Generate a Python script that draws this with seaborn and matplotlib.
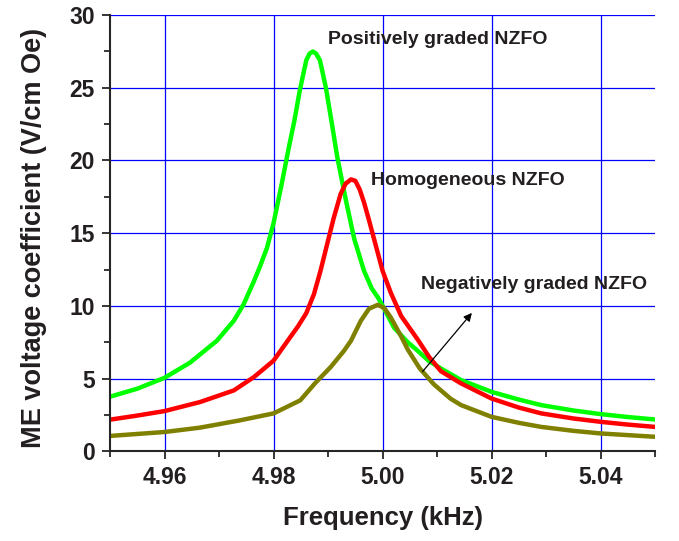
import pandas as pd
import seaborn as sns
import matplotlib.pyplot as plt
from matplotlib.ticker import MultipleLocator

# values
pos_freq = [4.950, 4.955, 4.960, 4.9647, 4.9696, 4.9727, 4.9745, 4.9764, 4.9775, 4.9788,
            4.9800, 4.9815, 4.9828, 4.9838, 4.9848, 4.9860, 4.9866, 4.9872, 4.9878, 4.9885,
            4.9896, 4.9906, 4.9917, 4.9933, 4.9948, 4.9966, 4.9980, 4.9991, 5.0000, 5.0021,
            5.0046, 5.0063, 5.0085, 5.0107, 5.0144, 5.0200, 5.0250, 5.0291, 5.0350, 5.0400,
            5.0450, 5.0500]
pos_me = [3.75, 4.3, 5.05, 6.1, 7.6, 8.97, 10.1, 11.7, 12.7, 14.0,
          15.7, 18.4, 20.9, 22.7, 24.8, 26.9, 27.35, 27.5, 27.35, 26.9,
          25.0, 22.75, 20.2, 17.2, 14.6, 12.4, 11.2, 10.6, 10.0, 8.5,
          7.5, 6.95, 6.2, 5.69, 4.89, 4.08, 3.55, 3.17, 2.8, 2.55,
          2.35, 2.18]

homo_freq = [4.950, 4.955, 4.960, 4.9665, 4.9727, 4.9764, 4.9800, 4.9824, 4.9845, 4.9860,
             4.9874, 4.9886, 4.9898, 4.9910, 4.9923, 4.9932, 4.9942, 4.9950, 4.9958, 4.9966,
             4.9975, 4.9985, 5.0000, 5.0015, 5.0034, 5.0064, 5.0085, 5.0107, 5.0144, 5.0200,
             5.0250, 5.0291, 5.0350, 5.0400, 5.0450, 5.0500]
homo_me = [2.17, 2.45, 2.76, 3.38, 4.18, 5.1, 6.23, 7.5, 8.6, 9.5,
           10.8, 12.4, 14.2, 16.0, 17.7, 18.4, 18.7, 18.6, 18.0, 17.1,
           15.9, 14.5, 12.4, 10.9, 9.3, 7.7, 6.5, 5.5, 4.66, 3.62,
           3.0, 2.6, 2.25, 2.02, 1.83, 1.67]

neg_freq = [4.950, 4.960, 4.9665, 4.9738, 4.9800, 4.9849, 4.9875, 4.9905, 4.9929, 4.9942,
            4.9960, 4.9975, 4.9991, 5.0003, 5.0015, 5.0034, 5.0046, 5.0068, 5.0094, 5.0125,
            5.0144, 5.0200, 5.0250, 5.0291, 5.0350, 5.0400, 5.0500]
neg_me = [1.05, 1.32, 1.62, 2.12, 2.6, 3.5, 4.63, 5.8, 6.9, 7.6,
          8.97, 9.8, 10.07, 9.85, 9.2, 7.9, 7.0, 5.7, 4.6, 3.6,
          3.17, 2.36, 1.95, 1.67, 1.4, 1.22, 0.99]

names = ["Positively graded NZFO", "Homogeneous NZFO", "Negatively graded NZFO"]
colors = ["#00ff00", "#ff0000", "#808000"]

df = pd.concat([
    pd.DataFrame({"freq": pos_freq, "me": pos_me, "sample": names[0]}),
    pd.DataFrame({"freq": homo_freq, "me": homo_me, "sample": names[1]}),
    pd.DataFrame({"freq": neg_freq, "me": neg_me, "sample": names[2]}),
])

sns.set_style("ticks")
plt.rcParams["font.family"] = ["Liberation Sans", "DejaVu Sans"]
plt.rcParams["font.weight"] = "bold"

fig = plt.figure(figsize=(6.79, 5.41), dpi=100)
ax = fig.add_axes([0.162, 0.166, 0.803, 0.806])

sns.lineplot(data=df, x="freq", y="me", hue="sample", palette=colors,
             linewidth=3.2, legend=False, ax=ax, sort=True)

ax.set_xlim(4.95, 5.05)
ax.set_ylim(0, 30)
ax.set_xticks([4.96, 4.98, 5.00, 5.02, 5.04])
ax.set_xticklabels(["4.96", "4.98", "5.00", "5.02", "5.04"])
ax.xaxis.set_minor_locator(MultipleLocator(0.01))
ax.yaxis.set_major_locator(MultipleLocator(5))
ax.yaxis.set_minor_locator(MultipleLocator(2.5))
ax.tick_params(which="major", length=6, width=1.3, labelsize=16.5, pad=5)
ax.tick_params(which="minor", length=4, width=1.3)
for lab in ax.get_xticklabels() + ax.get_yticklabels():
    lab.set_fontweight("bold")
    lab.set_color("#231f20")

ax.grid(True, which="major", color="#0000ff", linewidth=0.9)
ax.set_axisbelow(True)
sns.despine(ax=ax)
ax.spines["left"].set_linewidth(1.5)
ax.spines["bottom"].set_linewidth(1.5)

ax.set_xlabel("Frequency (kHz)", fontsize=18.5, fontweight="bold", color="#231f20", labelpad=12)
ax.set_ylabel("ME voltage coefficient (V/cm Oe)", fontsize=19.5, fontweight="bold",
              color="#231f20", labelpad=13)
ax.yaxis.set_label_coords(-0.115, 0.49)

ax.text(4.9899, 28.3, names[0], fontsize=14, fontweight="bold", color="#231f20", va="center")
ax.text(4.9978, 18.6, names[1], fontsize=14, fontweight="bold", color="#231f20", va="center")
ax.text(5.0070, 11.45, names[2], fontsize=14, fontweight="bold", color="#231f20", va="center")
ax.annotate("", xy=(5.0167, 9.66), xytext=(5.0070, 5.33),
            arrowprops=dict(arrowstyle="-|>", color="black", lw=0.9, mutation_scale=12))

fig.savefig("out.png", dpi=100)
